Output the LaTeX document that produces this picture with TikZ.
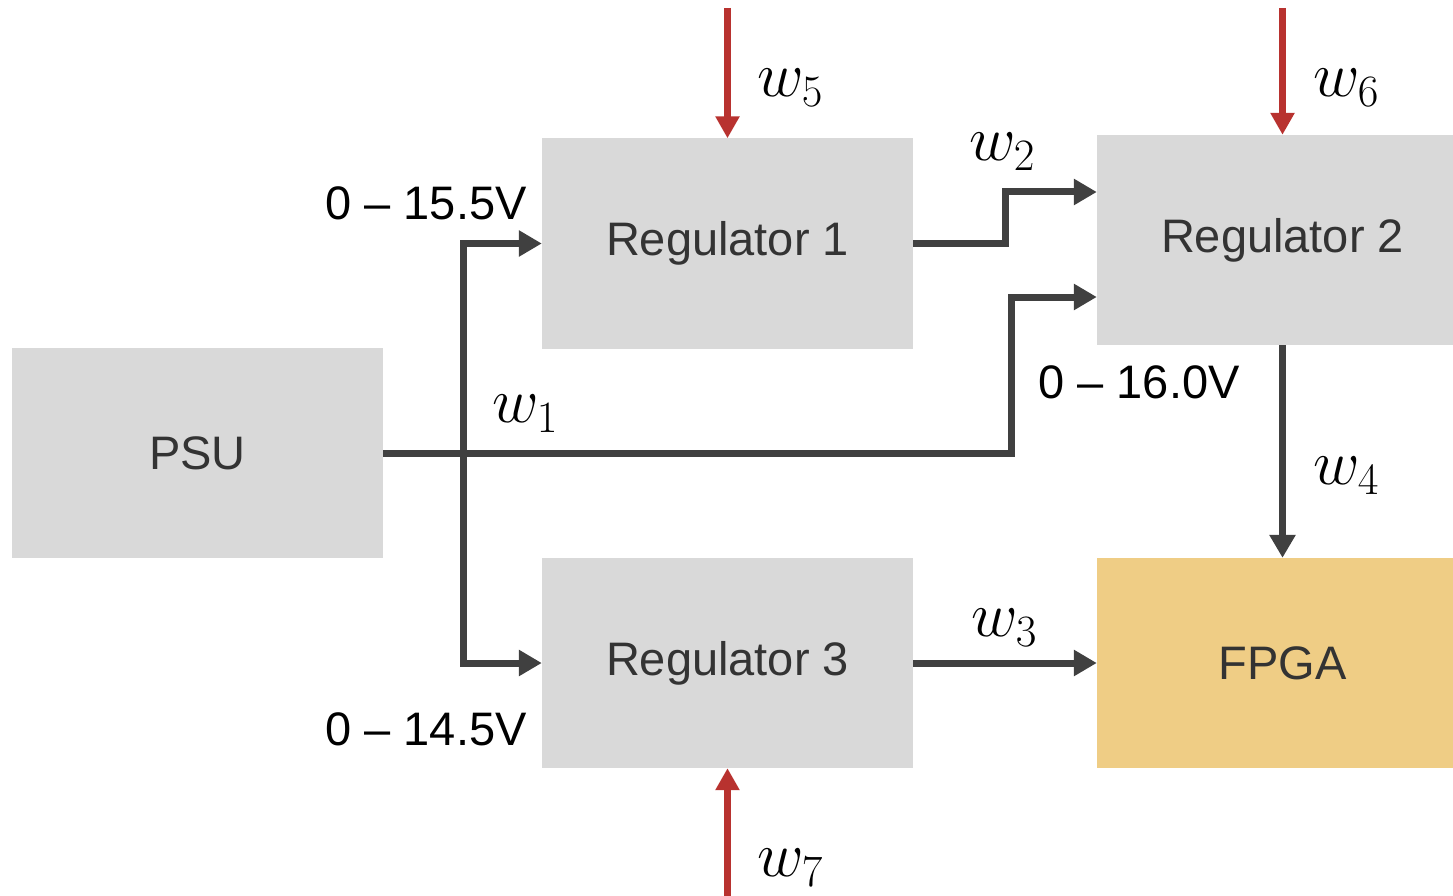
\RequirePackage{fix-cm}
\documentclass[tikz,border=0pt]{standalone}
\usepackage{fontspec}
\newfontfamily\arialfont{Liberation Sans}
\usetikzlibrary{arrows.meta,positioning}
\definecolor{boxgray}{HTML}{D9D9D9}
\definecolor{fpgaorange}{HTML}{EFCD85}
\definecolor{wiregray}{HTML}{404040}
\definecolor{noisered}{HTML}{B8322F}
\definecolor{labelgray}{HTML}{333333}

\begin{document}
\begin{tikzpicture}[x=1pt,y=-1pt,
  block/.style={fill=boxgray,minimum width=371pt,minimum height=210pt,inner sep=0pt,
    text=labelgray,font=\arialfont\fontsize{47}{56}\selectfont},
  wire/.style={draw=wiregray,line width=7pt,-{Triangle[length=23pt,width=25pt]}},
  noise/.style={draw=noisered,line width=6.5pt,-{Triangle[length=22pt,width=23pt]}},
  volt/.style={font=\arialfont\fontsize{47}{56}\selectfont,inner sep=0pt},
  wlab/.style={font=\fontsize{64}{70}\selectfont,inner sep=0pt}]
\useasboundingbox (0,0) rectangle (1453,896);

\node[block] (psu) at (197.5,453) {PSU};
\node[block] (reg1) at (727.5,243.5) {Regulator 1};
\node[block] (reg2) at (1282.5,240) {Regulator 2};
\node[block] (reg3) at (727.5,663) {Regulator 3};
\node[block,fill=fpgaorange] (fpga) at (1282.5,663) {FPGA};

\coordinate (split) at (463,453);
\coordinate (psubend) at (1011,453);
\draw[wire] (psu.east) -- (psubend) |- ([yshift=-57pt]reg2.west);
\draw[wire] (split) |- (reg1.west);
\draw[wire] (split) |- (reg3.west);
\draw[wire] (reg1.east) -- ++(92,0) |- ([yshift=48pt]reg2.west);
\draw[wire] (reg3.east) -- (fpga.west);
\draw[wire] (reg2.south) -- (fpga.north);

\coordinate (top5) at (727.5,8);
\coordinate (top6) at (1282.5,8);
\coordinate (bot7) at (727.5,896);
\draw[noise] (top5) -- (reg1.north);
\draw[noise] (top6) -- (reg2.north);
\draw[noise] (bot7) -- (reg3.south);

\node[wlab] (w1) at (525,414) {$w_1$};
\node[wlab] (w2) at (1002,152) {$w_2$};
\node[wlab] (w3) at (1004,628) {$w_3$};
\node[wlab] (w4) at (1346,476) {$w_4$};
\node[wlab] (w5) at (790,88) {$w_5$};
\node[wlab] (w6) at (1346,88) {$w_6$};
\node[wlab] (w7) at (790,868) {$w_7$};

\node[volt] (v1) at (426,203) {0 – 15.5V};
\node[volt] (v2) at (1139,382) {0 – 16.0V};
\node[volt] (v3) at (426,729) {0 – 14.5V};

\end{tikzpicture}
\end{document}
